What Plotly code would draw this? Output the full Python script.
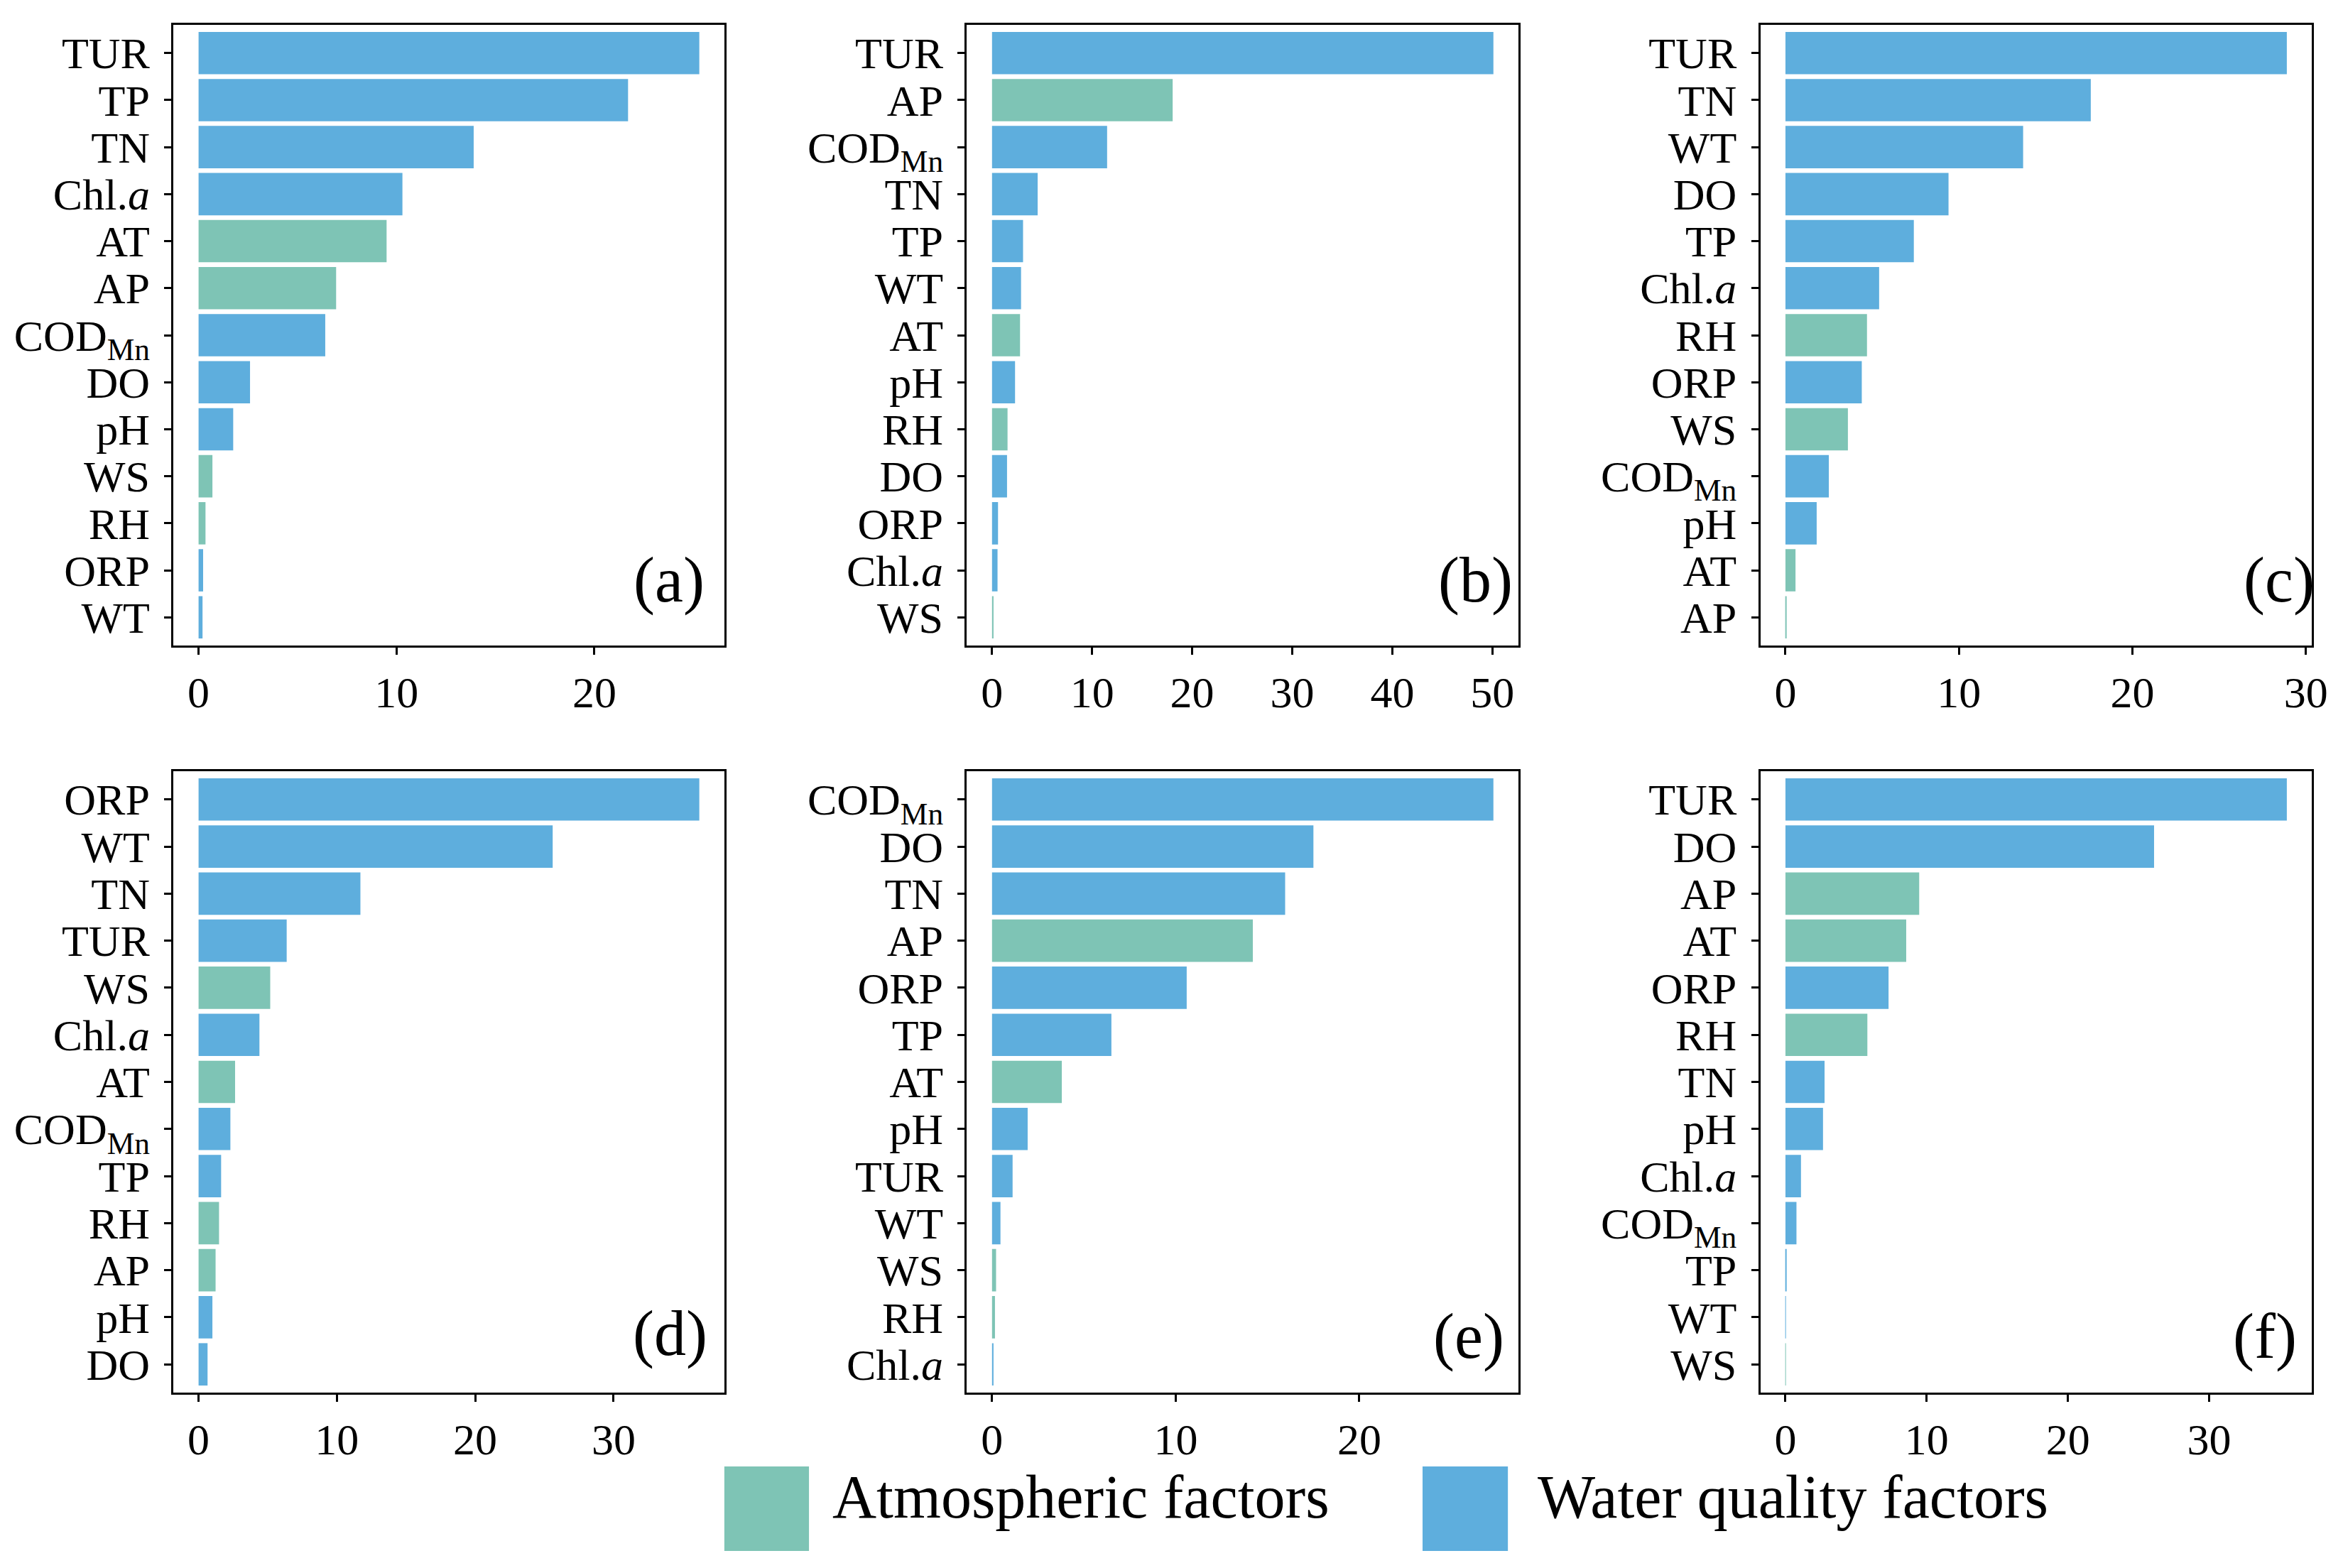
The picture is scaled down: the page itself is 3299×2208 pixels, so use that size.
import plotly.graph_objects as go

# ---------------- data ----------------
COD = "COD<sub>Mn</sub>"
CHL = "Chl.<i>a</i>"
ATMOSPHERIC = ["AT", "AP", "WS", "RH"]

labels_a = ["TUR", "TP", "TN", CHL, "AT", "AP", COD, "DO", "pH", "WS", "RH", "ORP", "WT"]
values_a = [25.3, 21.7, 13.9, 10.3, 9.5, 6.95, 6.4, 2.6, 1.75, 0.7, 0.35, 0.23, 0.2]

labels_b = ["TUR", "AP", COD, "TN", "TP", "WT", "AT", "pH", "RH", "DO", "ORP", CHL, "WS"]
values_b = [50.1, 18.05, 11.5, 4.56, 3.1, 2.9, 2.8, 2.3, 1.55, 1.5, 0.6, 0.55, 0.15]

labels_c = ["TUR", "TN", "WT", "DO", "TP", CHL, "RH", "ORP", "WS", COD, "pH", "AT", "AP"]
values_c = [28.9, 17.6, 13.7, 9.4, 7.4, 5.4, 4.7, 4.4, 3.6, 2.5, 1.8, 0.58, 0.03]

labels_d = ["ORP", "WT", "TN", "TUR", "WS", CHL, "AT", COD, "TP", "RH", "AP", "pH", "DO"]
values_d = [36.2, 25.6, 11.7, 6.37, 5.18, 4.4, 2.64, 2.3, 1.63, 1.48, 1.23, 1.0, 0.65]

labels_e = [COD, "DO", "TN", "AP", "ORP", "TP", "AT", "pH", "TUR", "WT", "WS", "RH", CHL]
values_e = [27.3, 17.5, 15.96, 14.2, 10.6, 6.5, 3.8, 1.94, 1.12, 0.46, 0.22, 0.16, 0.08]

labels_f = ["TUR", "DO", "AP", "AT", "ORP", "RH", "TN", "pH", CHL, COD, "TP", "WT", "WS"]
values_f = [35.5, 26.1, 9.47, 8.55, 7.3, 5.8, 2.77, 2.66, 1.1, 0.78, 0.04, 0.03, 0.02]

panel_tags = ["(a)", "(b)", "(c)", "(d)", "(e)", "(f)"]
legend_names = ["Atmospheric factors", "Water quality factors"]

# ---------------- style ----------------
GREEN = "#7EC4B5"
BLUE = "#5EAEDD"
FONT = "Liberation Serif"
W, H = 3299, 2208

panels = [
    (labels_a, values_a), (labels_b, values_b), (labels_c, values_c),
    (labels_d, values_d), (labels_e, values_e), (labels_f, values_f),
]

col_px = [(238, 1019), (1363, 2145), (2488, 3270)]
row_px = [(27, 901), (1078, 1953)]
tag_x = [0.900, 0.922, 0.940, 0.902, 0.910, 0.915]
tag_y = [0.105, 0.105, 0.105, 0.095, 0.09, 0.09]

fig = go.Figure()
annotations = []
for i, (labels, values) in enumerate(panels):
    r, c = divmod(i, 3)
    idx = "" if i == 0 else str(i + 1)
    xa, ya = "x" + idx, "y" + idx
    colors = [GREEN if lab in ATMOSPHERIC else BLUE for lab in labels]
    fig.add_trace(go.Bar(
        x=values, y=labels, orientation="h", xaxis=xa, yaxis=ya,
        marker=dict(color=colors, line=dict(width=0)), width=0.9,
        showlegend=False, hoverinfo="x+y",
    ))
    vmax = max(values)
    x0, x1 = col_px[c]
    y0, y1 = row_px[r]
    n = len(labels)
    axis_common = dict(
        showline=True, mirror=True, linecolor="black", linewidth=3,
        ticks="outside", tickwidth=3, ticklen=10, tickcolor="black",
        showgrid=False, zeroline=False,
        tickfont=dict(family=FONT, size=62, color="black"),
    )
    fig.layout["xaxis" + idx] = dict(
        axis_common, domain=[x0 / W, x1 / W], anchor=ya,
        range=[-0.05 * vmax, 1.05 * vmax], tickmode="linear", dtick=10, tick0=0,
    )
    fig.layout["yaxis" + idx] = dict(
        axis_common, domain=[1 - y1 / H, 1 - y0 / H], anchor=xa,
        type="category", categoryorder="array", categoryarray=labels,
        tickmode="linear", tick0=0, dtick=1,
        range=[n - 1 + 0.6, -0.6], ticklabelstandoff=8,
    )
    annotations.append(dict(
        text=panel_tags[i], xref=xa + " domain", yref=ya + " domain",
        x=tag_x[i], y=tag_y[i], xanchor="center", yanchor="middle",
        showarrow=False, font=dict(family=FONT, size=90, color="black"),
    ))

# legend drawn as patches + text
shapes = [
    dict(type="rect", xref="paper", yref="paper",
         x0=1019 / W, x1=1139 / W, y0=1 - 2176 / H, y1=1 - 2057 / H,
         fillcolor=GREEN, line=dict(width=0)),
    dict(type="rect", xref="paper", yref="paper",
         x0=2009 / W, x1=2130 / W, y0=1 - 2176 / H, y1=1 - 2057 / H,
         fillcolor=BLUE, line=dict(width=0)),
]
annotations.append(dict(text=legend_names[0], xref="paper", yref="paper",
                        x=1170 / W, y=1 - 2100 / H, xanchor="left", yanchor="middle",
                        showarrow=False, font=dict(family=FONT, size=86, color="black")))
annotations.append(dict(text=legend_names[1], xref="paper", yref="paper",
                        x=2170 / W, y=1 - 2100 / H, xanchor="left", yanchor="middle",
                        showarrow=False, font=dict(family=FONT, size=86, color="black")))

fig.update_layout(
    width=W, height=H, margin=dict(l=0, r=0, t=0, b=0),
    paper_bgcolor="white", plot_bgcolor="white",
    font=dict(family=FONT, color="black"),
    annotations=annotations, shapes=shapes, showlegend=False, bargap=0.1,
)

fig.write_html("out.html")
